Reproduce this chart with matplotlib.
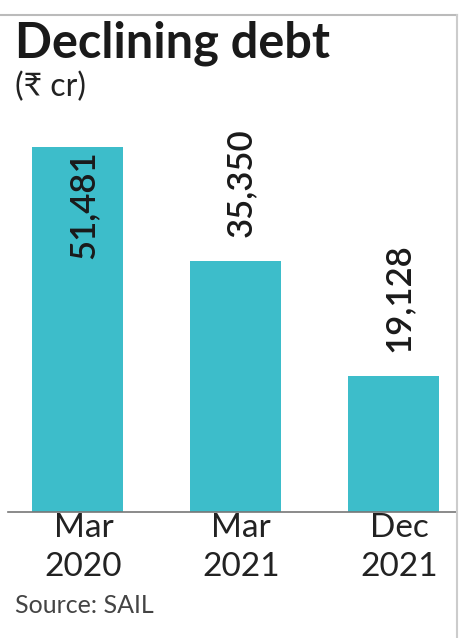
import matplotlib.pyplot as plt
import matplotlib.transforms as mtransforms

categories = ['Mar\n2020', 'Mar\n2021', 'Dec\n2021']
debt = [51481, 35350, 19128]
labels = ['51,481', '35,350', '19,128']

W, H = 461, 638
fig = plt.figure(figsize=(W / 100, H / 100), dpi=100)

# axes placed in pixel terms: baseline at y=512, spans x 8..457
left, right = 8, 457
bottom, top = 512, 130
ax = fig.add_axes([left / W, 1 - bottom / H, (right - left) / W, (bottom - top) / H])

c0, step = 77.5, 157.75
x = list(range(len(debt)))
ax.bar(x, debt, width=91 / step, color='#3dbdca')
ax.set_xlim((left - c0) / step, (right - c0) / step)
ax.set_ylim(0, (bottom - top) / 0.00709)

for sp in ['top', 'left', 'right']:
    ax.spines[sp].set_visible(False)
ax.spines['bottom'].set_color('#777777')
ax.spines['bottom'].set_linewidth(1.2)
ax.set_yticks([])
ax.set_xticks(x)
ax.set_xticklabels(categories, fontsize=24, family=['Lato', 'DejaVu Sans'],
                   color='#222222', linespacing=1.35)
ax.tick_params(axis='x', length=0, pad=1)
off = mtransforms.ScaledTranslation(6 / 100, 0, fig.dpi_scale_trans)
for lab in ax.get_xticklabels():
    lab.set_transform(lab.get_transform() + off)

for i, (v, s) in enumerate(zip(debt, labels)):
    if i == 0:
        ax.annotate(s, (i, v), xytext=(6, -3), textcoords='offset pixels',
                    rotation=90, ha='center', va='top', fontsize=25,
                    fontweight='semibold', family=['Lato', 'DejaVu Sans'], color='#1a1a1a')
    else:
        ax.annotate(s, (i, v), xytext=(6, 24), textcoords='offset pixels',
                    rotation=90, ha='center', va='bottom', fontsize=25,
                    fontweight='semibold', family=['Lato', 'DejaVu Sans'], color='#1a1a1a')

fig.text(15 / W, 1 - 21 / H, 'Declining debt', fontsize=35, fontweight='bold',
         family=['Lato', 'DejaVu Sans'], va='top', ha='left', color='#1a1a1a')
fig.text(15 / W, 1 - 72 / H, '(₹ cr)', fontsize=23,
         family=['Lato', 'DejaVu Sans'], va='top', ha='left', color='#222222')
fig.text(15 / W, 1 - 594 / H, 'Source: SAIL', fontsize=18,
         family=['Lato', 'DejaVu Sans'], va='top', ha='left', color='#444444')

# frame lines: top and right
fig.add_artist(plt.Line2D([0, 457 / W], [1 - 15 / H] * 2, color='#bbbbbb', lw=1.5))
fig.add_artist(plt.Line2D([457 / W] * 2, [0, 1 - 15 / H], color='#cccccc', lw=1.5))

fig.savefig('out.png', dpi=100)
